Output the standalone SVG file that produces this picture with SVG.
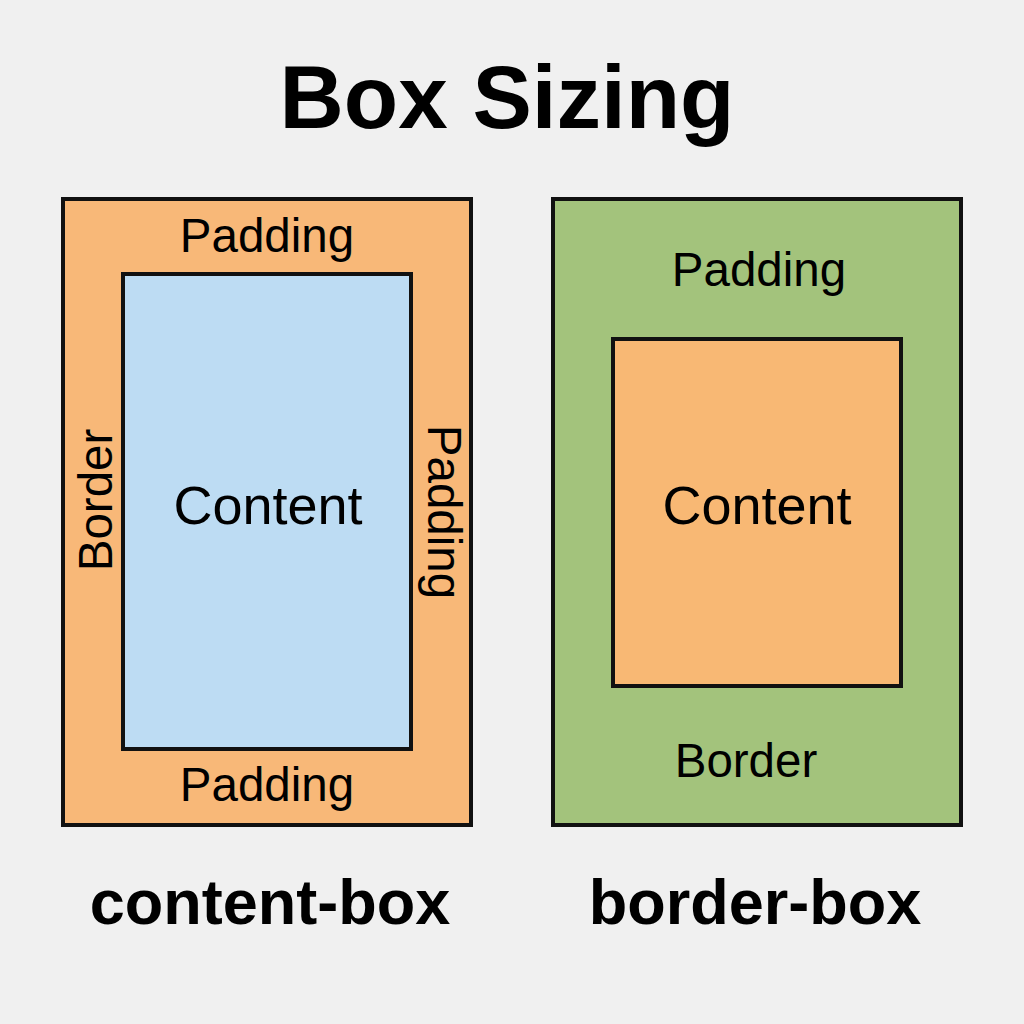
<svg xmlns="http://www.w3.org/2000/svg" width="1024" height="1024" viewBox="0 0 1024 1024">
  <style>
    .lbl { font-family: "Liberation Sans", Arial, sans-serif; font-size: 47.5px; fill: #000; text-anchor: middle; }
    .big { font-family: "Liberation Sans", Arial, sans-serif; font-size: 54px; fill: #000; text-anchor: middle; }
    .head { font-family: "Liberation Sans", Arial, sans-serif; font-weight: bold; fill: #000; text-anchor: middle; }
    .box { stroke: #111; stroke-width: 4; }
  </style>
  <rect width="1024" height="1024" fill="#f0f0f0"/>

  <text class="head" x="507" y="128" font-size="89">Box Sizing</text>

  <!-- content-box model -->
  <g id="content-box">
    <rect class="box" x="63" y="199" width="408" height="626" fill="#f8b878"/>
    <rect class="box" x="123" y="274" width="288" height="475" fill="#bddcf3"/>
    <text class="lbl" x="267" y="252">Padding</text>
    <text class="lbl" x="267" y="801">Padding</text>
    <text class="big" x="268" y="524">Content</text>
    <text class="lbl" transform="translate(112,500) rotate(-90)">Border</text>
    <text class="lbl" transform="translate(428,512) rotate(90)">Padding</text>
  </g>

  <!-- border-box model -->
  <g id="border-box">
    <rect class="box" x="553" y="199" width="408" height="626" fill="#a3c37c"/>
    <rect class="box" x="613" y="339" width="288" height="347" fill="#f8b874"/>
    <text class="lbl" x="759" y="286">Padding</text>
    <text class="big" x="757" y="524">Content</text>
    <text class="lbl" x="746" y="777">Border</text>
  </g>

  <g id="captions">
    <text class="head" x="270" y="924" font-size="63">content-box</text>
    <text class="head" x="755" y="924" font-size="63">border-box</text>
  </g>

  <g id="connectors"/>
</svg>
